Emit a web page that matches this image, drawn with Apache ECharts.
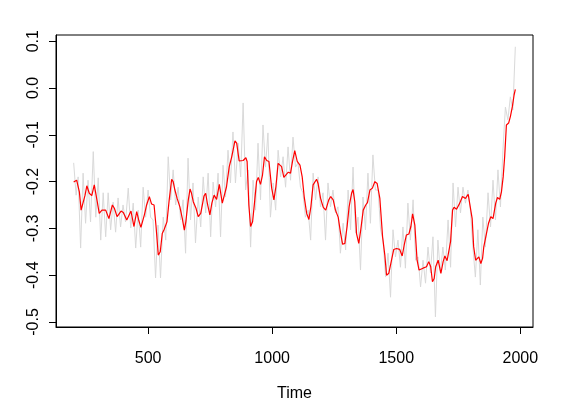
<!DOCTYPE html>
<html>
<head>
<meta charset="utf-8">
<script src="https://cdn.jsdelivr.net/npm/echarts@6/dist/echarts.min.js"></script>
<style>
  html, body { margin: 0; padding: 0; background: #fff; }
  #main { width: 570px; height: 398px; }
</style>
</head>
<body>
<div id="main"></div>
<script>
// 平滑曲线 (红)
var redYears = [200,212,216,223,230,236,246,253,263,273,
  283,287,295,303,314,329,342,356,364,375,
  391,400,414,420,431,443,454,462,471,485,
  494,505,514,524,532,541,549,557,565,576,
  585,595,601,608,617,628,638,646,652,662,
  669,675,682,693,702,712,720,725,732,740,
  749,757,766,776,787,792,799,806,816,827,
  837,850,857,867,883,894,899,906,913,921,
  930,937,944,953,961,969,978,987,998,1007,
  1015,1024,1031,1038,1047,1055,1065,1074,1082,1091,
  1101,1112,1121,1129,1139,1148,1156,1165,1179,1185,
  1195,1206,1216,1228,1236,1246,1255,1266,1276,1284,
  1293,1302,1310,1320,1326,1333,1340,1349,1357,1367,
  1377,1384,1394,1404,1414,1423,1434,1445,1454,1461,
  1470,1481,1490,1501,1514,1524,1532,1541,1551,1559,
  1566,1575,1584,1592,1608,1622,1631,1639,1646,1653,
  1659,1669,1680,1689,1696,1705,1713,1719,1727,1733,
  1743,1756,1767,1779,1790,1796,1806,1812,1820,1827,
  1833,1841,1848,1853,1861,1872,1881,1890,1901,1908,
  1917,1924,1931,1937,1944,1953,1960,1968,1975,1980];
var redVals = [-0.201,-0.197,-0.200,-0.222,-0.261,-0.264,-0.229,-0.209,-0.225,-0.230,
  -0.207,-0.211,-0.243,-0.268,-0.261,-0.261,-0.279,-0.250,-0.257,-0.275,
  -0.263,-0.266,-0.282,-0.286,-0.263,-0.296,-0.264,-0.282,-0.298,-0.271,
  -0.250,-0.232,-0.248,-0.250,-0.296,-0.357,-0.350,-0.311,-0.302,-0.286,
  -0.239,-0.195,-0.200,-0.218,-0.236,-0.254,-0.279,-0.304,-0.286,-0.239,
  -0.216,-0.225,-0.243,-0.257,-0.275,-0.268,-0.246,-0.231,-0.225,-0.250,
  -0.271,-0.246,-0.229,-0.238,-0.206,-0.207,-0.246,-0.250,-0.211,-0.168,
  -0.147,-0.113,-0.118,-0.156,-0.155,-0.149,-0.157,-0.250,-0.296,-0.286,
  -0.239,-0.200,-0.191,-0.206,-0.186,-0.147,-0.155,-0.157,-0.214,-0.239,
  -0.211,-0.161,-0.157,-0.168,-0.191,-0.191,-0.180,-0.182,-0.157,-0.134,
  -0.157,-0.165,-0.190,-0.232,-0.268,-0.281,-0.254,-0.207,-0.195,-0.204,
  -0.236,-0.255,-0.261,-0.239,-0.232,-0.239,-0.261,-0.276,-0.311,-0.334,
  -0.332,-0.296,-0.254,-0.225,-0.217,-0.243,-0.311,-0.332,-0.303,-0.261,
  -0.250,-0.245,-0.218,-0.214,-0.200,-0.204,-0.236,-0.318,-0.357,-0.400,
  -0.396,-0.368,-0.345,-0.343,-0.345,-0.359,-0.336,-0.314,-0.312,-0.296,
  -0.269,-0.293,-0.368,-0.389,-0.385,-0.382,-0.371,-0.382,-0.414,-0.407,
  -0.382,-0.368,-0.396,-0.371,-0.359,-0.369,-0.368,-0.328,-0.261,-0.255,
  -0.259,-0.246,-0.232,-0.236,-0.227,-0.231,-0.279,-0.339,-0.368,-0.371,
  -0.361,-0.375,-0.364,-0.339,-0.318,-0.289,-0.275,-0.279,-0.246,-0.234,
  -0.238,-0.222,-0.190,-0.147,-0.079,-0.075,-0.061,-0.040,-0.015,-0.003];

// 原始序列 (灰)
var grayYears = [200,210, 218,228, 238,248, 258,268, 279,289, 299,309, 319,329, 339,349, 359,369, 379,389,
  399,409, 420,430, 440,450, 460,470, 480,490, 500,510, 520,530, 540,550, 561,571, 581,591,
  601,611, 621,631, 641,651, 661,671, 681,691, 702,712, 722,732, 742,752, 762,772, 782,792,
  802,812, 822,832, 842,852, 863,873, 883,893, 903,913, 923,933, 943,953, 963,973, 983,993,
  1004,1014, 1024,1034, 1044,1054, 1064,1074, 1084,1094, 1104,1114, 1124,1134, 1145,1155, 1165,1175, 1185,1195,
  1205,1215, 1225,1235, 1245,1255, 1265,1275, 1286,1296, 1306,1316, 1326,1336, 1346,1356, 1366,1376, 1386,1396,
  1406,1416, 1427,1437, 1447,1457, 1467,1477, 1487,1497, 1507,1517, 1527,1537, 1547,1557, 1568,1578, 1588,1598,
  1608,1618, 1628,1638, 1648,1658, 1668,1678, 1688,1698, 1709,1719, 1729,1739, 1749,1759, 1769,1779, 1789,1799,
  1809,1819, 1829,1839, 1849,1859, 1870,1880, 1890,1900, 1910,1920, 1930,1940, 1950,1960, 1970,1980];
var grayVals = [-0.160,-0.229, -0.190,-0.342, -0.182,-0.289, -0.197,-0.286, -0.136,-0.276,
  -0.192,-0.325, -0.224,-0.318, -0.224,-0.303, -0.244,-0.308, -0.235,-0.297,
  -0.250,-0.286, -0.214,-0.299, -0.246,-0.342, -0.261,-0.340, -0.212,-0.276,
  -0.218,-0.276, -0.282,-0.406, -0.293,-0.406, -0.276,-0.325, -0.147,-0.239,
  -0.175,-0.250, -0.212,-0.282, -0.239,-0.353, -0.150,-0.282, -0.203,-0.331,
  -0.233,-0.297, -0.190,-0.267, -0.182,-0.318, -0.201,-0.254, -0.182,-0.318,
  -0.165,-0.233, -0.133,-0.203, -0.094,-0.203, -0.118,-0.190, -0.032,-0.218,
  -0.175,-0.340, -0.197,-0.261, -0.118,-0.239, -0.079,-0.169, -0.096,-0.276,
  -0.203,-0.261, -0.133,-0.190, -0.147,-0.212, -0.126,-0.197, -0.105,-0.169,
  -0.160,-0.212, -0.224,-0.276, -0.261,-0.325, -0.182,-0.239, -0.190,-0.254,
  -0.224,-0.325, -0.203,-0.254, -0.218,-0.267, -0.254,-0.353, -0.289,-0.346,
  -0.218,-0.303, -0.169,-0.310, -0.276,-0.389, -0.233,-0.303, -0.182,-0.289,
  -0.143,-0.218, -0.218,-0.303, -0.325,-0.404, -0.353,-0.447, -0.303,-0.361,
  -0.325,-0.383, -0.297,-0.385, -0.246,-0.325, -0.239,-0.368, -0.361,-0.425,
  -0.368,-0.417, -0.340,-0.395, -0.318,-0.489, -0.325,-0.395, -0.340,-0.389,
  -0.282,-0.383, -0.203,-0.297, -0.212,-0.267, -0.212,-0.246, -0.218,-0.261,
  -0.340,-0.404, -0.303,-0.421, -0.276,-0.340, -0.224,-0.297, -0.197,-0.282,
  -0.175,-0.254, -0.133,-0.041, -0.068,-0.019, -0.047,0.088];

// 刻度
var xTicks = [500, 1000, 1500, 2000];
var yTicks = [-0.5, -0.4, -0.3, -0.2, -0.1, 0.0, 0.1];

function pairs(xs, ys) {
  var out = [];
  for (var i = 0; i < xs.length; i++) out.push([xs[i], ys[i]]);
  return out;
}

var chart = echarts.init(document.getElementById('main'), null, {renderer: 'canvas'});
var font = 'Liberation Sans, Arial, sans-serif';

var option = {
  backgroundColor: '#fff',
  animation: false,
  grid: {
    left: 56, right: 37, top: 35, bottom: 71,
    outerBoundsMode: 'none',
    containLabel: false,
    show: true, borderColor: '#000', borderWidth: 1,
    backgroundColor: 'transparent'
  },
  xAxis: {
    type: 'value',
    min: 128.8, max: 2051.2,
    name: 'Time',
    nameLocation: 'middle',
    nameGap: 59,
    nameTextStyle: {color: '#000', fontSize: 16, fontFamily: font},
    axisLine: {show: true, onZero: false, lineStyle: {color: '#000', width: 1}},
    axisTick: {show: true, customValues: xTicks, length: 7, lineStyle: {color: '#000', width: 1}},
    axisLabel: {
      customValues: xTicks, color: '#000', fontSize: 16, fontFamily: font, margin: 24,
      formatter: function (v) { return String(v); }
    },
    splitLine: {show: false}
  },
  yAxis: {
    type: 'value',
    min: -0.5107, max: 0.1132,
    axisLine: {show: true, onZero: false, lineStyle: {color: '#000', width: 1}},
    axisTick: {show: true, customValues: yTicks, length: 7, lineStyle: {color: '#000', width: 1}},
    axisLabel: {
      customValues: yTicks, rotate: 90, color: '#000', fontSize: 16, fontFamily: font, margin: 14,
      formatter: function (v) { return (Math.abs(v) < 1e-9 ? 0 : v).toFixed(1); }
    },
    splitLine: {show: false}
  },
  series: [
    {
      name: 'raw',
      type: 'line',
      data: pairs(grayYears, grayVals),
      showSymbol: false,
      lineStyle: {color: '#d9d9d9', width: 1},
      z: 1
    },
    {
      name: 'smooth',
      type: 'line',
      data: pairs(redYears, redVals),
      showSymbol: false,
      lineStyle: {color: '#ff0000', width: 1.2},
      z: 2
    }
  ]
};
chart.setOption(option);
</script>
</body>
</html>
